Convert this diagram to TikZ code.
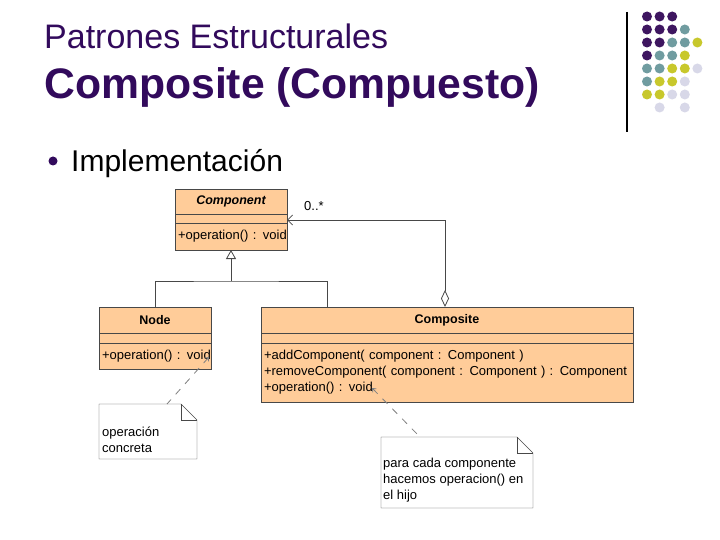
\documentclass[tikz,border=0pt]{standalone}
\usepackage{fontspec}
\setmainfont{Liberation Sans}
\usetikzlibrary{positioning,arrows.meta}

\definecolor{titlepurple}{RGB}{50,10,92}
\definecolor{dp}{RGB}{62,22,96}
\definecolor{dt}{RGB}{112,156,160}
\definecolor{dy}{RGB}{200,200,44}
\definecolor{dl}{RGB}{216,216,232}
\definecolor{umlfill}{RGB}{255,204,153}
\definecolor{umlline}{RGB}{72,72,72}

\tikzset{
  umlfont/.style={font=\fontsize{13}{16}\selectfont},
  umlpart/.style={draw=umlline, fill=umlfill, outer sep=0pt, inner sep=0pt, umlfont},
  umlhead/.style={umlpart, minimum height=26pt, font=\fontsize{12.5}{15}\selectfont\bfseries},
  umlattr/.style={umlpart, minimum height=10pt},
  umlops/.style={umlpart, inner xsep=3pt, align=left},
  notebox/.style={draw=umlline, fill=white, inner sep=0pt, outer sep=0pt},
  notetext/.style={umlfont, inner sep=0pt, align=left, anchor=west},
  umllink/.style={draw=umlline, line width=0.8pt},
  notelink/.style={draw=gray, line width=0.8pt, dash pattern=on 7pt off 7pt},
}

\begin{document}
\begin{tikzpicture}[x=1pt,y=-1pt]
\path[fill=white] (0,0) rectangle (720,540);
\useasboundingbox (0,0) rectangle (720,540);

% slide title
\node[anchor=base west, inner sep=0pt, text=titlepurple, font=\fontsize{34}{38}\selectfont] (subtitle) at (44,49) {Patrones Estructurales};
\node[anchor=base west, inner sep=0pt, text=titlepurple, font=\fontsize{42.7}{48}\selectfont\bfseries] (title) at (44,99) {Composite (Compuesto)};
\node[circle, fill=titlepurple, inner sep=0pt, minimum size=9pt] (bullet) at (53,161) {};
\node[anchor=base west, inner sep=0pt, font=\fontsize{30}{34}\selectfont] (item) at (71,172) {Implementación};

% corner decoration
\draw[line width=1.2pt] (627,12) -- (627,132);
\foreach \c/\r/\col in {0/0/dp,1/0/dp,2/0/dp, 0/1/dp,1/1/dp,2/1/dp,3/1/dt,
    0/2/dp,1/2/dp,2/2/dt,3/2/dt,4/2/dy, 0/3/dp,1/3/dt,2/3/dt,3/3/dy,
    0/4/dt,1/4/dt,2/4/dy,3/4/dy,4/4/dl, 0/5/dt,1/5/dy,2/5/dy,3/5/dl,
    0/6/dy,1/6/dy,2/6/dl,3/6/dl, 1/7/dl,3/7/dl}
  \fill[\col] (647+12.6*\c, 16.5+13*\r) circle (5);

% Component
\node[umlhead, minimum width=112pt, minimum height=25pt, anchor=north west] (comphead) at (175,189) {\itshape Component};
\node[umlattr, minimum width=112pt, minimum height=9pt, below=0pt of comphead] (compattr) {};
\node[umlops, text width=106pt, minimum height=27pt, below=0pt of compattr] (compops) {\mbox{+operation() : void}};

% Node
\node[umlhead, minimum width=112pt, anchor=north west] (nodehead) at (99,307) {Node};
\node[umlattr, minimum width=112pt, below=0pt of nodehead] (nodeattr) {};
\node[umlops, text width=106pt, minimum height=26pt, below=0pt of nodeattr] (nodeops) {\mbox{+operation() : void}};

% Composite
\node[umlhead, minimum width=372pt, anchor=north west] (composhead) at (261,307) {Composite};
\node[umlattr, minimum width=372pt, below=0pt of composhead] (composattr) {};
\node[umlops, text width=366pt, minimum height=59pt, below=0pt of composattr] (composops)
  {+addComponent( component : Component )\\\mbox{+removeComponent( component : Component ) : Component}\\\mbox{+operation() : void}};

% generalisation
\coordinate (genfork) at (231,281);
\coordinate (genjoin) at (327,307);
\draw[umllink] (nodehead.north) |- (genfork) -| (genjoin);
\draw[umllink, -{Triangle[open, length=9pt, width=10pt]}] (genfork) -- (compops.south);

% aggregation
\coordinate (aggfoot) at (445,307);
\draw[umllink, {Diamond[open, length=17pt, width=8pt]}-{Straight Barb[length=5pt, width=10pt]}] (aggfoot) |- ([yshift=-1.5pt]compattr.east);
\node[umlfont, inner sep=0pt] (mult) at (314,206) {0..*};

% notes
\node[notebox, minimum width=98pt, minimum height=55pt, anchor=north west, draw=none, fill=none] (note1) at (99,404) {};
\draw[notebox] (note1.north west) -- ([xshift=-16pt]note1.north east) -- ([yshift=-16pt]note1.north east) -- (note1.south east) -- (note1.south west) -- cycle;
\draw[umllink] ([xshift=-16pt]note1.north east) |- ([yshift=-16pt]note1.north east);
\node[notetext] (note1text) at (102,440) {operación\\concreta};

\node[notebox, minimum width=152pt, minimum height=71pt, anchor=north west, draw=none, fill=none] (note2) at (381,437) {};
\draw[notebox] (note2.north west) -- ([xshift=-16pt]note2.north east) -- ([yshift=-16pt]note2.north east) -- (note2.south east) -- (note2.south west) -- cycle;
\draw[umllink] ([xshift=-16pt]note2.north east) |- ([yshift=-16pt]note2.north east);
\node[notetext] (note2text) at (383,480) {para cada componente\\hacemos operacion() en\\el hijo};

\coordinate (nodepin) at (209,357);
\coordinate (compospin) at (372,388);
\draw[notelink, {Straight Barb[length=3pt, width=5pt]}-] (nodepin) -- ([xshift=68pt]note1.north west);
\draw[notelink, {Straight Barb[length=3pt, width=5pt]}-] (compospin) -- ([xshift=39pt]note2.north west);
\end{tikzpicture}
\end{document}
